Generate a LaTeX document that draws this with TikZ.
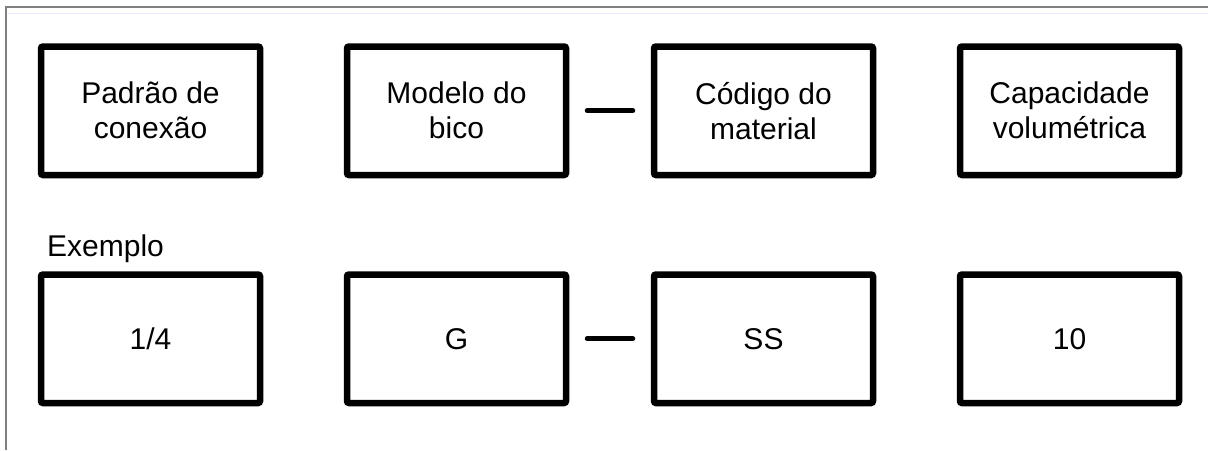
\documentclass[tikz,border=0pt]{standalone}
\usepackage{fontspec}
\setmainfont{Liberation Sans}
\begin{document}
\begin{tikzpicture}[x=1pt,y=-1pt,
  field/.style={draw=black,line width=6.5pt,rounded corners=2pt,fill=white,
    minimum width=219pt,minimum height=128.5pt,inner sep=0pt,align=center,
    font=\fontsize{30}{35}\selectfont},
  joiner/.style={line width=5pt,line cap=round,shorten <=18pt,shorten >=18pt},
  frameline/.style={draw=black!50,line width=1.5pt}]
  \useasboundingbox (0,0) rectangle (1208,450);
  % outer frame (top and left edges only)
  \coordinate (ftl) at (6,7);
  \coordinate (ftr) at (1208,7);
  \coordinate (fbl) at (6,450);
  \draw[frameline] (ftr) -- (ftl) -- (fbl);
  \coordinate (gl) at (7,13.5);
  \coordinate (gr) at (1208,13.5);
  \draw[draw=blue!8,line width=1.5pt] (gl) -- (gr);
  % header row
  \node[field] (h1) at (150.5,110.75) {Padrão de\\conexão};
  \node[field] (h2) at (456.5,110.75) {Modelo do\\bico};
  \node[field] (h3) at (763.5,110.75) {Código do\\material};
  \node[field] (h4) at (1069.5,110.75) {Capacidade\\volumétrica};
  \draw[joiner] (h2.east) -- (h3.west);
  % example row
  \node[anchor=base west,inner sep=0pt,font=\fontsize{30}{35}\selectfont] (ex) at (47,256.7) {Exemplo};
  \node[field] (e1) at (150.5,338.75) {1/4};
  \node[field] (e2) at (456.5,338.75) {G};
  \node[field] (e3) at (763.5,338.75) {SS};
  \node[field] (e4) at (1069.5,338.75) {10};
  \draw[joiner] (e2.east) -- (e3.west);
\end{tikzpicture}
\end{document}
